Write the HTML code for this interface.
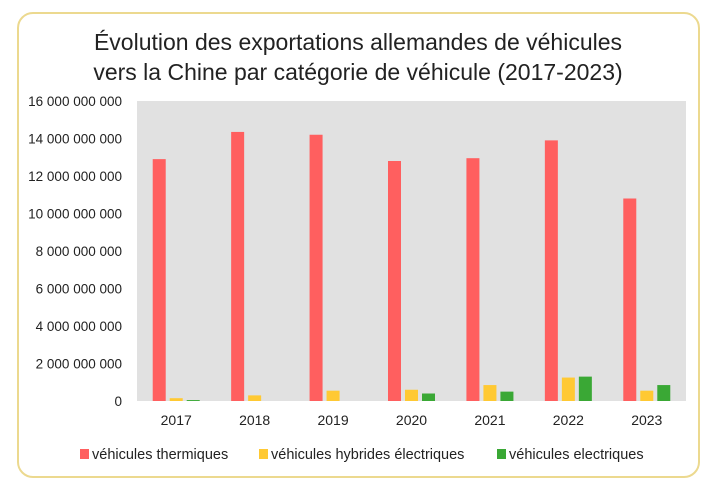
<!DOCTYPE html>
<html><head><meta charset="utf-8"><style>
body{margin:0;background:#fff;font-family:"Liberation Sans","DejaVu Sans",sans-serif;}
#wrap{position:relative;width:717px;height:490px;overflow:hidden;}
#card{position:absolute;left:17px;top:12px;width:683px;height:466px;border:2px solid #ecd98f;border-radius:16px;box-sizing:border-box;}
</style></head><body>
<div id="wrap">
<div id="card"></div>
<svg id="svg" width="717" height="490" style="position:absolute;left:0;top:0">
<text x="358" y="50" text-anchor="middle" font-size="23" fill="#222">Évolution des exportations allemandes de véhicules</text>
<text x="358" y="80" text-anchor="middle" font-size="23" fill="#222">vers la Chine par catégorie de véhicule (2017-2023)</text>
<rect x="137" y="101" width="549" height="300" fill="#e1e1e1"/>
<g id="bars"></g><g id="yax"></g><g id="xax"></g><g id="legend"></g>
</svg>
</div>
<script>
const categories=["2017","2018","2019","2020","2021","2022","2023"];
const thermiques=[12.9e9,14.35e9,14.2e9,12.8e9,12.95e9,13.9e9,10.8e9];
const hybrides=[0.15e9,0.3e9,0.55e9,0.6e9,0.85e9,1.25e9,0.55e9];
const electriques=[0.05e9,0,0,0.4e9,0.5e9,1.3e9,0.85e9];
const yTicks=[0,2e9,4e9,6e9,8e9,10e9,12e9,14e9,16e9];
const seriesNames=["véhicules thermiques","véhicules hybrides électriques","véhicules electriques"];
const colors=["#ff5f5f","#ffc933","#3aa835"];
const NS="http://www.w3.org/2000/svg";
const L=137,R=686,T=101,B=401,ymax=16e9;
const y=v=>B-(v/ymax)*(B-T);
const bw=(R-L)/categories.length;
const xc=i=>L+bw*(i+0.5);
function fmt(v){return v===0?"0":String(Math.round(v)).replace(/\B(?=(\d{3})+(?!\d))/g," ");}
function mk(tag,attrs,parent){const e=document.createElementNS(NS,tag);for(const k in attrs)e.setAttribute(k,attrs[k]);parent.appendChild(e);return e;}
const bars=document.getElementById('bars');
[thermiques,hybrides,electriques].forEach((s,si)=>{
 s.forEach((v,i)=>{
  const x=xc(i)-23.5+si*17;
  const r=mk('rect',{x:x,y:y(v),width:13,height:B-y(v),fill:colors[si]},bars);
  
  
 });
});
const yax=document.getElementById('yax');
yTicks.forEach(t=>{
 const e=mk('text',{x:122,y:y(t)+5,'text-anchor':'end','font-size':'13.5',fill:'#222'},yax);
 e.textContent=fmt(t);
 
 
});
const xax=document.getElementById('xax');
categories.forEach((c,i)=>{
 const e=mk('text',{x:xc(i),y:425,'text-anchor':'middle','font-size':'14',fill:'#222'},xax);
 e.textContent=c;
 
 
});
const lg=document.getElementById('legend');
const lx=[80,259,497];
seriesNames.forEach((n,i)=>{
 const r=mk('rect',{x:lx[i],y:449,width:9,height:10,fill:colors[i]},lg);
 
 
 const t=mk('text',{x:lx[i]+12,y:459,'font-size':'14.5',fill:'#222'},lg);
 t.textContent=n;
 
 
});
</script>
</body></html>
